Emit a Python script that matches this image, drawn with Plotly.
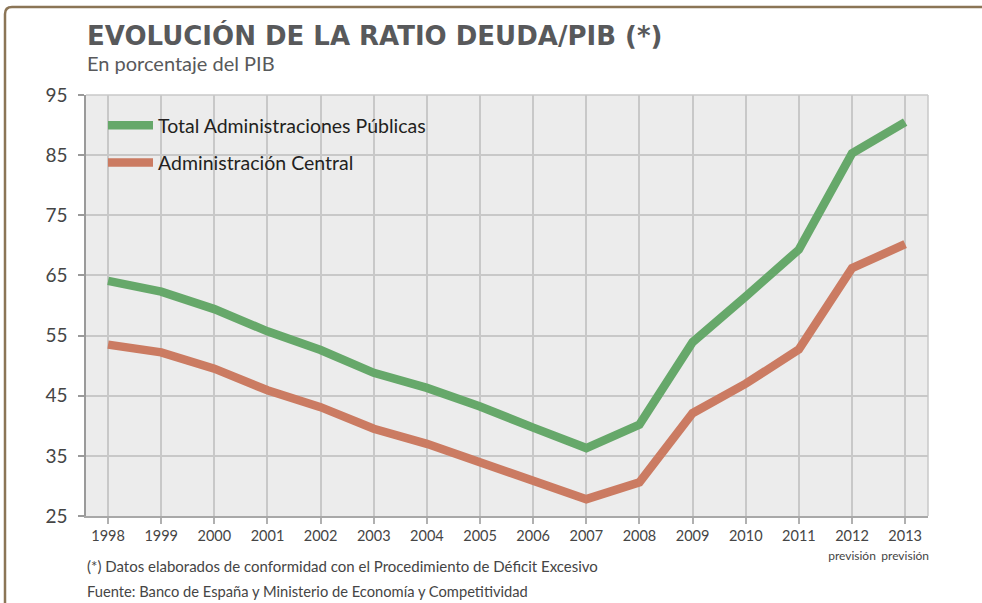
import plotly.graph_objects as go

years = list(range(1998, 2014))
total_ap = [64.1, 62.3, 59.4, 55.7, 52.6, 48.8, 46.3, 43.2, 39.7, 36.3, 40.2, 53.9, 61.5, 69.3, 85.3, 90.5]
admin_central = [53.5, 52.2, 49.5, 45.9, 43.1, 39.5, 37.0, 33.9, 30.8, 27.8, 30.6, 42.1, 47.0, 52.7, 66.2, 70.2]
year_labels = [str(y) for y in years]
forecast_note = ["", "", "", "", "", "", "", "", "", "", "", "", "", "", "previsión", "previsión"]
y_ticks = [25, 35, 45, 55, 65, 75, 85, 95]

series_names = ["Total Administraciones Públicas", "Administración Central"]
series_colors = ["#66a86a", "#cb7b62"]

W, H = 982, 603
L, R, T, B = 86, 928, 95, 516

def px(xp):
    return (xp - L) / (R - L)

def py(yp):
    return (B - yp) / (B - T)

ticktext = []
for lab, note in zip(year_labels, forecast_note):
    if note:
        ticktext.append(f"{lab}<br><span style='font-size:12px'>{note}</span>")
    else:
        ticktext.append(f"{lab}<br> ")

main_font = "Lato, Open Sans, sans-serif"
title_font = "DejaVu Sans, Open Sans, sans-serif"

fig = go.Figure()
for name, vals, col, grp in zip(series_names, [total_ap, admin_central], series_colors, ["a", "b"]):
    fig.add_trace(go.Scatter(
        x=years, y=vals, mode="lines", name=name, legendgroup=grp,
        line=dict(color=col, width=8.5),
    ))

shapes = [
    # legend background hiding gridlines
    dict(type="rect", xref="paper", yref="paper", x0=px(86.5), x1=px(440), y0=py(188), y1=py(96),
         fillcolor="#ececec", line=dict(width=0), layer="between"),
    # right plot edge
    dict(type="line", xref="paper", yref="paper", x0=1, x1=1, y0=0, y1=1,
         line=dict(color="#c8c8c8", width=1.5)),
    # top plot edge
    dict(type="line", xref="paper", yref="paper", x0=0, x1=1, y0=1, y1=1,
         line=dict(color="#c8c8c8", width=1.5)),
    # outer frame: top and left
    dict(type="path", xref="paper", yref="paper",
         path=f"M {px(985)},{py(7)} L {px(12)},{py(7)} Q {px(5)},{py(7)} {px(5)},{py(14)} L {px(5)},{py(610)}",
         line=dict(color="#8b7556", width=2.5)),
]

annotations = [
    dict(text="<b>EVOLUCIÓN DE LA RATIO DEUDA/PIB (*)</b>", xref="paper", yref="paper",
         x=px(85), y=py(36), xanchor="left", yanchor="middle", showarrow=False,
         font=dict(family=title_font, size=26, color="#58595b")),
    dict(text="En porcentaje del PIB", xref="paper", yref="paper",
         x=px(85), y=py(63), xanchor="left", yanchor="middle", showarrow=False,
         font=dict(family=main_font, size=20, color="#58595b")),
    dict(text="(*) Datos elaborados de conformidad con el Procedimiento de Déficit Excesivo", xref="paper", yref="paper",
         x=px(85), y=py(566), xanchor="left", yanchor="middle", showarrow=False,
         font=dict(family=main_font, size=15, color="#454545")),
    dict(text="Fuente: Banco de España y Ministerio de Economía y Competitividad", xref="paper", yref="paper",
         x=px(85), y=py(591), xanchor="left", yanchor="middle", showarrow=False,
         font=dict(family=main_font, size=14.7, color="#454545")),
]

fig.update_layout(
    width=W, height=H,
    margin=dict(l=L, r=W - R, t=T, b=H - B, pad=0, autoexpand=False),
    paper_bgcolor="white", plot_bgcolor="#ececec",
    shapes=shapes, annotations=annotations,
    legend=dict(x=px(103), y=py(106), xanchor="left", yanchor="top",
                bgcolor="rgba(0,0,0,0)", borderwidth=0,
                font=dict(family=main_font, size=19.5, color="#231f20"),
                tracegroupgap=9, traceorder="grouped", itemwidth=45),
    showlegend=True,
    xaxis=dict(range=[1997.585, 2013.43], tickmode="array", tickvals=years, ticktext=ticktext,
               tickangle=0, automargin=False,
               showgrid=True, gridcolor="#c8c8c8", gridwidth=1.5,
               showline=True, linecolor="#a8a8a8", linewidth=1.5,
               ticks="outside", ticklen=6, tickcolor="#b0b0b0", tickwidth=1.5,
               tickfont=dict(family=main_font, size=14.5, color="#454545"), zeroline=False),
    yaxis=dict(range=[25, 95], tickmode="array", tickvals=y_ticks, automargin=False,
               showgrid=True, gridcolor="#c8c8c8", gridwidth=1.5,
               showline=True, linecolor="#9a9a9a", linewidth=1.5,
               ticks="outside", ticklen=6, tickcolor="#9a9a9a", tickwidth=1.5,
               ticklabelstandoff=7,
               tickfont=dict(family=main_font, size=19, color="#454545"), zeroline=False),
)

fig.write_html(
    "out.html",
    config={"displayModeBar": False},
    post_script="document.body.style.margin='0';document.body.style.overflow='hidden';",
)
